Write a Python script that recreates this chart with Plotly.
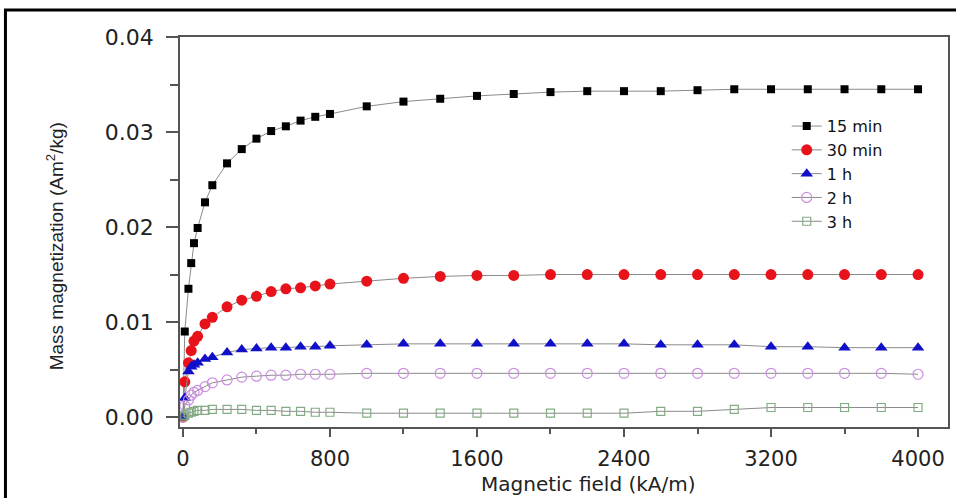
import plotly.graph_objects as go

field = [0, 10, 30, 45, 60, 80, 120, 160, 240, 320, 400, 480, 560, 640, 720, 800,
         1000, 1200, 1400, 1600, 1800, 2000, 2200, 2400, 2600, 2800, 3000, 3200,
         3400, 3600, 3800, 4000]

m_15min = [0.0000, 0.0090, 0.0135, 0.0162, 0.0183, 0.0199, 0.0226, 0.0244, 0.0267,
           0.0282, 0.0293, 0.0301, 0.0306, 0.0312, 0.0316, 0.0319,
           0.0327, 0.0332, 0.0335, 0.0338, 0.0340, 0.0342, 0.0343, 0.0343, 0.0343,
           0.0344, 0.0345, 0.0345, 0.0345, 0.0345, 0.0345, 0.0345]

m_30min = [0.0000, 0.0037, 0.0057, 0.0070, 0.0080, 0.0085, 0.0098, 0.0105, 0.0116,
           0.0123, 0.0127, 0.0132, 0.0135, 0.0136, 0.0138, 0.0140,
           0.0143, 0.0146, 0.0148, 0.0149, 0.0149, 0.0150, 0.0150, 0.0150, 0.0150,
           0.0150, 0.0150, 0.0150, 0.0150, 0.0150, 0.0150, 0.0150]

m_1h = [0.0000, 0.0020, 0.0048, 0.0053, 0.0055, 0.0057, 0.0061, 0.0063, 0.0068,
        0.0071, 0.0072, 0.0073, 0.0073, 0.0074, 0.0074, 0.0075,
        0.0076, 0.0077, 0.0077, 0.0077, 0.0077, 0.0077, 0.0077, 0.0077, 0.0076,
        0.0076, 0.0076, 0.0074, 0.0074, 0.0073, 0.0073, 0.0073]

m_2h = [0.0000, 0.0012, 0.0018, 0.0023, 0.0026, 0.0028, 0.0032, 0.0036, 0.0039,
        0.0042, 0.0043, 0.0044, 0.0044, 0.0045, 0.0045, 0.0045,
        0.0046, 0.0046, 0.0046, 0.0046, 0.0046, 0.0046, 0.0046, 0.0046, 0.0046,
        0.0046, 0.0046, 0.0046, 0.0046, 0.0046, 0.0046, 0.0045]

m_3h = [0.0000, 0.0002, 0.0004, 0.0005, 0.0006, 0.0007, 0.0007, 0.0008, 0.0008,
        0.0008, 0.0007, 0.0007, 0.0006, 0.0006, 0.0005, 0.0005,
        0.0004, 0.0004, 0.0004, 0.0004, 0.0004, 0.0004, 0.0004, 0.0004, 0.0006,
        0.0006, 0.0008, 0.0010, 0.0010, 0.0010, 0.0010, 0.0010]

series = [
    ("15 min", m_15min, dict(symbol="square", size=8, color="#000000")),
    ("30 min", m_30min, dict(symbol="circle", size=11, color="#e8121a")),
    ("1 h", m_1h, dict(symbol="triangle-up", size=11, color="#1010c8")),
    ("2 h", m_2h, dict(symbol="circle-open", size=10, color="#cc8ee0", line=dict(width=1.2))),
    ("3 h", m_3h, dict(symbol="square-open", size=8, color="#84ac84", line=dict(width=1.2))),
]

fig = go.Figure()
for name, vals, mk in series:
    fig.add_trace(go.Scatter(x=field, y=vals, name=name, mode="lines+markers",
                             line=dict(color="#8a8a8a", width=1), marker=mk))

tickfont = dict(family="DejaVu Sans", size=22, color="#222222")

fig.update_layout(
    width=956, height=498,
    margin=dict(l=180, r=6, t=37, b=71),
    paper_bgcolor="white", plot_bgcolor="white",
    showlegend=True,
    legend=dict(x=0.79, y=0.815, xanchor="left", yanchor="top",
                font=dict(family="DejaVu Sans", size=16, color="#111111"),
                bgcolor="rgba(0,0,0,0)", itemwidth=30, tracegroupgap=0),
    xaxis=dict(range=[-16, 4163], showgrid=False, zeroline=False,
               showline=True, linecolor="#555555", linewidth=1.5, mirror=True,
               ticks="outside", ticklen=8, tickwidth=1.5, tickcolor="#555555",
               tickvals=[0, 800, 1600, 2400, 3200, 4000],
               tickfont=dict(family="DejaVu Sans", size=21, color="#222222"),
               ticklabelstandoff=4,
               minor=dict(ticks="outside", ticklen=5, tickwidth=1.5, tickcolor="#555555",
                          tickvals=[400, 1200, 2000, 2800, 3600])),
    yaxis=dict(range=[-0.00105, 0.04], showgrid=False, zeroline=False,
               showline=True, linecolor="#555555", linewidth=1.5, mirror=True,
               ticks="outside", ticklen=12, tickwidth=1.5, tickcolor="#555555",
               tickvals=[0, 0.01, 0.02, 0.03, 0.04],
               ticktext=["0.00", "0.01", "0.02", "0.03", "0.04"], tickfont=tickfont,
               ticklabelstandoff=8,
               minor=dict(ticks="outside", ticklen=8, tickwidth=1.5, tickcolor="#555555",
                          tickvals=[0.005, 0.015, 0.025, 0.035])),
    annotations=[
        dict(text="Magnetic field (kA/m)", xref="paper", yref="paper",
             x=(590 - 180) / 770, y=(427 - 484) / 390, xanchor="center", yanchor="middle",
             showarrow=False, font=dict(family="DejaVu Sans", size=20, color="#222222")),
        dict(text="Mass magnetization (Am<sup>2</sup>/kg)", xref="paper", yref="paper",
             x=(55 - 180) / 770, y=(427 - 246) / 390, xanchor="center", yanchor="middle",
             textangle=-90, showarrow=False,
             font=dict(family="Liberation Sans", size=19, color="#222222")),
    ],
    shapes=[
        dict(type="path", xref="paper", yref="paper",
             path="M %f %f L %f %f L %f %f" % ((5 - 180) / 770, (427 - 500) / 390,
                                              (5 - 180) / 770, (427 - 10) / 390,
                                              (960 - 180) / 770, (427 - 10) / 390),
             line=dict(color="#000000", width=3)),
    ],
)

fig.write_html("out.html", config={"displayModeBar": False},
               post_script="document.body.style.margin='0';document.body.style.padding='0';")
